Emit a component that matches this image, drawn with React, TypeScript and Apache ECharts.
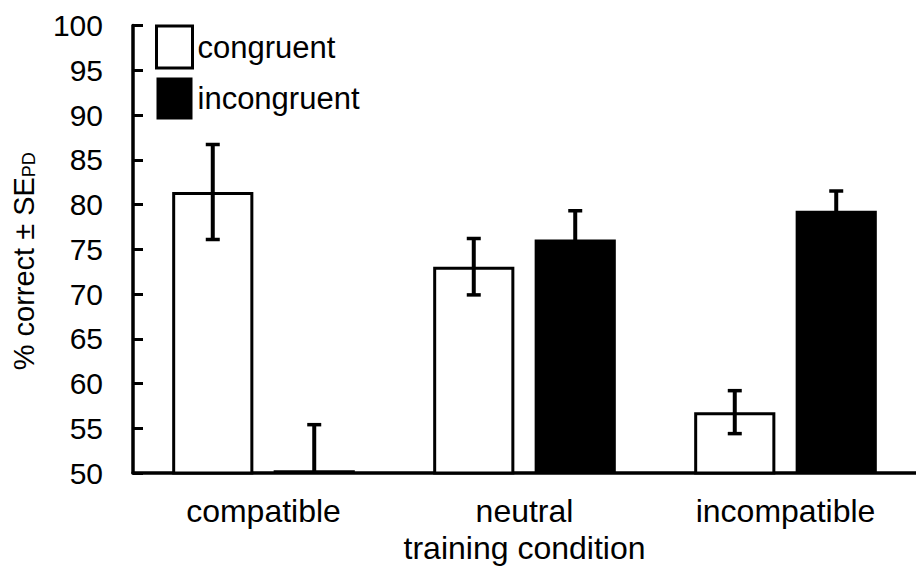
import React, { useEffect, useRef } from "react";
import * as echarts from "echarts";

const categories = ["compatible", "neutral", "incompatible"];
const seriesNames = ["congruent", "incongruent"];
const congruentMeans = [81.4, 73.05, 56.8];
const congruentSE = [5.3, 3.15, 2.4];
const incongruentMeans = [50.3, 76.1, 79.3];
const incongruentSE = [5.1, 3.2, 2.2];
const yTicks = [50, 55, 60, 65, 70, 75, 80, 85, 90, 95, 100];

const FONT = "'Liberation Sans', Arial, sans-serif";
const BAR_FRAC = 0.311;
const GAP_FRAC = 0.25;

function errorSeries(means: number[], ses: number[], side: number) {
  return {
    type: "custom",
    z: 10,
    clip: true,
    silent: true,
    data: means.map((m, i) => [i, m, ses[i]]),
    renderItem: (params: any, api: any) => {
      const ci = api.value(0);
      const mean = api.value(1);
      const se = api.value(2);
      const c = api.coord([ci, mean]);
      const band = api.size([1, 0])[0];
      const barW = band * BAR_FRAC;
      const x = c[0] + side * barW * (1 + GAP_FRAC) / 2;
      const top = api.coord([ci, mean + se])[1];
      const bot = api.coord([ci, mean - se])[1];
      const half = 7;
      const st = { stroke: "#000", lineWidth: 3.5 };
      return {
        type: "group",
        children: [
          { type: "line", shape: { x1: x, y1: top, x2: x, y2: bot }, style: { ...st, lineWidth: 4 } },
          { type: "line", shape: { x1: x - half, y1: top, x2: x + half, y2: top }, style: st },
          { type: "line", shape: { x1: x - half, y1: bot, x2: x + half, y2: bot }, style: st },
        ],
      };
    },
  };
}

export default function App() {
  const ref = useRef<HTMLDivElement>(null);
  useEffect(() => {
    if (!ref.current) return;
    const chart = echarts.init(ref.current, undefined, { renderer: "svg" });
    chart.setOption({
      animation: false,
      backgroundColor: "#fff",
      textStyle: { fontFamily: FONT, color: "#000" },
      grid: { left: 133, top: 25.5, width: 792, height: 447.5, containLabel: false },
      legend: {
        orient: "vertical",
        left: 155,
        top: 24.5,
        padding: 0,
        itemWidth: 36,
        itemHeight: 42,
        itemGap: 8,
        icon: "rect",
        textStyle: { fontSize: 31, color: "#000", fontFamily: FONT },
        data: [
          { name: seriesNames[0], itemStyle: { color: "#fff", borderColor: "#000", borderWidth: 3 } },
          { name: seriesNames[1], itemStyle: { color: "#000", borderWidth: 0 } },
        ],
      },
      xAxis: {
        type: "category",
        data: categories,
        name: "training condition",
        nameLocation: "middle",
        nameGap: 57,
        nameTextStyle: { fontSize: 32, color: "#000", fontFamily: FONT },
        axisLine: { lineStyle: { color: "#000", width: 3.5 } },
        axisTick: { show: false },
        axisLabel: { fontSize: 32, color: "#000", margin: 22, fontFamily: FONT },
      },
      yAxis: {
        type: "value",
        min: yTicks[0],
        max: yTicks[yTicks.length - 1],
        interval: 5,
        name: "{a|% correct ± SE}{b|PD}",
        nameLocation: "middle",
        nameGap: 95,
        nameRotate: 90,
        nameTextStyle: {
          padding: [0, 24, 0, 0],
          rich: {
            a: { fontSize: 29, color: "#000", fontFamily: FONT, verticalAlign: "bottom", lineHeight: 34 },
            b: { fontSize: 18, color: "#000", fontFamily: FONT, verticalAlign: "bottom", lineHeight: 34 },
          },
        },
        splitLine: { show: false },
        axisLine: { show: true, lineStyle: { color: "#000", width: 3.5 } },
        axisTick: { show: true, inside: true, length: 10, lineStyle: { color: "#000", width: 3 } },
        axisLabel: { fontSize: 30, color: "#000", margin: 30, fontFamily: FONT },
      },
      series: [
        {
          name: seriesNames[0],
          type: "bar",
          data: congruentMeans,
          barWidth: (BAR_FRAC * 100) + "%",
          barGap: (GAP_FRAC * 100) + "%",
          itemStyle: { color: "#fff", borderColor: "#000", borderWidth: 3 },
        },
        {
          name: seriesNames[1],
          type: "bar",
          data: incongruentMeans,
          barWidth: (BAR_FRAC * 100) + "%",
          barGap: (GAP_FRAC * 100) + "%",
          itemStyle: { color: "#000" },
        },
        errorSeries(congruentMeans, congruentSE, -1),
        errorSeries(incongruentMeans, incongruentSE, 1),
      ],
    });
    return () => chart.dispose();
  }, []);
  return (
    <div
      ref={ref}
      style={{ position: "fixed", left: 0, top: 0, width: 916, height: 569 }}
    />
  );
}
